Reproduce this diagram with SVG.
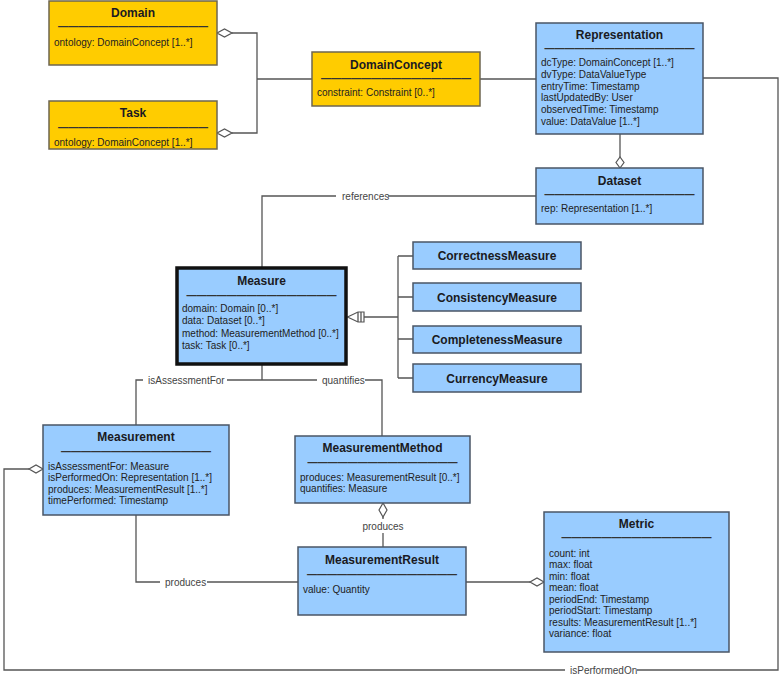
<svg xmlns="http://www.w3.org/2000/svg" width="780" height="675" viewBox="0 0 780 675">
<style>
text{font-family:"Liberation Sans",Arial,sans-serif}
.yel{fill:#FFCC00;stroke:#6e6650;stroke-width:1.5}
.blu{fill:#99CCFF;stroke:#4a5566;stroke-width:1.5}
.thick{fill:#99CCFF;stroke:#111;stroke-width:3.5}
.t{font-weight:bold;font-size:12px;fill:#1a1a22;text-anchor:middle}
.sep{font-size:10px;font-weight:bold;fill:#333;text-anchor:middle}
.a{font-size:10px;fill:#222}
.lbl{font-size:10px;fill:#444}
.c{fill:none;stroke:#555;stroke-width:1.3}
.dia{fill:#fff;stroke:#555;stroke-width:1.2}
</style>
<rect width="780" height="675" fill="#fff"/>
<g id="connectors">
  <path class="c" d="M232,33 H257 V133 H232 M257,79 H312"/>
  <path class="c" d="M480,79 H536"/>
  <path class="c" d="M620,134 V157"/>
  <path class="c" d="M262,268 V196 H536"/>
  <path class="c" d="M703,78 H778 V670 H4 V469 H29"/>
  <path class="c" d="M364,317 H398 M398,256 V378 M398,256 H413 M398,297 H413 M398,339 H413 M398,378 H413"/>
  <path class="c" d="M262,364 V380 M136,425 V380 H382 V436"/>
  <path class="c" d="M383,517 V547"/>
  <path class="c" d="M136,515 V582 H298"/>
  <path class="c" d="M466,582 H530"/>
  <polygon class="dia" points="217,33 224.5,29 232,33 224.5,37"/>
  <polygon class="dia" points="217,133 224.5,129 232,133 224.5,137"/>
  <polygon class="dia" points="620,168 616,162.5 620,157 624,162.5"/>
  <polygon class="dia" points="43,469 36,465 29,469 36,473"/>
  <polygon class="dia" points="383,503 379,510 383,517 387,510"/>
  <polygon class="dia" points="544,582 537,578 530,582 537,586"/>
  <polygon class="dia" points="347.5,317 358,312 364,312 364,322 358,322"/>
  <path class="c" d="M358,312 V322 M361,312 V322"/>
  <rect x="336" y="189" width="52" height="14" fill="#fff"/>
  <text class="lbl" x="342" y="199.5">references</text>
  <rect x="143" y="373" width="84" height="14" fill="#fff"/>
  <text class="lbl" x="148" y="383.5">isAssessmentFor</text>
  <rect x="317" y="373" width="48" height="14" fill="#fff"/>
  <text class="lbl" x="322" y="383.5">quantifies</text>
  <rect x="360" y="519" width="46" height="14" fill="#fff"/>
  <text class="lbl" x="383" y="529.5" text-anchor="middle">produces</text>
  <rect x="160" y="575" width="47" height="14" fill="#fff"/>
  <text class="lbl" x="165" y="585.5">produces</text>
  <rect x="565" y="663" width="72" height="12" fill="#fff"/>
  <text class="lbl" x="570" y="673.5">isPerformedOn</text>
</g>
<g id="Domain">
  <rect class="yel" x="49" y="1" width="168" height="64"/>
  <text class="t" x="133" y="17">Domain</text>
  <text class="sep" x="133" y="30">———————————————</text>
  <text class="a" x="54" y="46">ontology: DomainConcept [1..*]</text>
</g>
<g id="Task">
  <rect class="yel" x="49" y="101" width="168" height="48"/>
  <text class="t" x="133" y="117">Task</text>
  <text class="sep" x="133" y="131">———————————————</text>
  <text class="a" x="54" y="146">ontology: DomainConcept [1..*]</text>
</g>
<g id="DomainConcept">
  <rect class="yel" x="312" y="52" width="168" height="54"/>
  <text class="t" x="396" y="69">DomainConcept</text>
  <text class="sep" x="396" y="82">———————————————</text>
  <text class="a" x="317" y="96">constraint: Constraint [0..*]</text>
</g>
<g id="Representation">
  <rect class="blu" x="536" y="23" width="167" height="111"/>
  <text class="t" x="619.5" y="39">Representation</text>
  <text class="sep" x="619.5" y="52">———————————————</text>
  <text class="a" x="541" y="66">dcType: DomainConcept [1..*]</text>
  <text class="a" x="541" y="77.8">dvType: DataValueType</text>
  <text class="a" x="541" y="89.6">entryTime: Timestamp</text>
  <text class="a" x="541" y="101.4">lastUpdatedBy: User</text>
  <text class="a" x="541" y="113.2">observedTime: Timestamp</text>
  <text class="a" x="541" y="125">value: DataValue [1..*]</text>
</g>
<g id="Dataset">
  <rect class="blu" x="536" y="168" width="167" height="56"/>
  <text class="t" x="619.5" y="185">Dataset</text>
  <text class="sep" x="619.5" y="198">———————————————</text>
  <text class="a" x="541" y="211.5">rep: Representation [1..*]</text>
</g>
<g id="Measure">
  <rect class="thick" x="177" y="268" width="169" height="96"/>
  <text class="t" x="261.5" y="285">Measure</text>
  <text class="sep" x="261.5" y="299">———————————————</text>
  <text class="a" x="182" y="311.5">domain: Domain [0..*]</text>
  <text class="a" x="182" y="324">data: Dataset [0..*]</text>
  <text class="a" x="182" y="336.5">method: MeasurementMethod [0..*]</text>
  <text class="a" x="182" y="348.5">task: Task [0..*]</text>
</g>
<g id="CorrectnessMeasure">
  <rect class="blu" x="413" y="242" width="168" height="27"/>
  <text class="t" x="497" y="260">CorrectnessMeasure</text>
</g>
<g id="ConsistencyMeasure">
  <rect class="blu" x="413" y="283" width="168" height="28"/>
  <text class="t" x="497" y="301.5">ConsistencyMeasure</text>
</g>
<g id="CompletenessMeasure">
  <rect class="blu" x="413" y="326" width="168" height="27"/>
  <text class="t" x="497" y="344">CompletenessMeasure</text>
</g>
<g id="CurrencyMeasure">
  <rect class="blu" x="413" y="364" width="168" height="28"/>
  <text class="t" x="497" y="382.5">CurrencyMeasure</text>
</g>
<g id="Measurement">
  <rect class="blu" x="43" y="425" width="186" height="90"/>
  <text class="t" x="136" y="441">Measurement</text>
  <text class="sep" x="136" y="455">———————————————</text>
  <text class="a" x="48" y="469.5">isAssessmentFor: Measure</text>
  <text class="a" x="48" y="481">isPerformedOn: Representation [1..*]</text>
  <text class="a" x="48" y="492.5">produces: MeasurementResult [1..*]</text>
  <text class="a" x="48" y="504">timePerformed: Timestamp</text>
</g>
<g id="MeasurementMethod">
  <rect class="blu" x="295" y="436" width="175" height="67"/>
  <text class="t" x="382.5" y="452">MeasurementMethod</text>
  <text class="sep" x="382.5" y="466">———————————————</text>
  <text class="a" x="300" y="480.5">produces: MeasurementResult [0..*]</text>
  <text class="a" x="300" y="491.5">quantifies: Measure</text>
</g>
<g id="MeasurementResult">
  <rect class="blu" x="298" y="547" width="168" height="68"/>
  <text class="t" x="382" y="564">MeasurementResult</text>
  <text class="sep" x="382" y="578">———————————————</text>
  <text class="a" x="303" y="592.5">value: Quantity</text>
</g>
<g id="Metric">
  <rect class="blu" x="544" y="512" width="185" height="140"/>
  <text class="t" x="636.5" y="528">Metric</text>
  <text class="sep" x="636.5" y="541">———————————————</text>
  <text class="a" x="549" y="556.5">count: int</text>
  <text class="a" x="549" y="568">max: float</text>
  <text class="a" x="549" y="579.5">min: float</text>
  <text class="a" x="549" y="591">mean: float</text>
  <text class="a" x="549" y="602.5">periodEnd: Timestamp</text>
  <text class="a" x="549" y="614">periodStart: Timestamp</text>
  <text class="a" x="549" y="625.5">results: MeasurementResult [1..*]</text>
  <text class="a" x="549" y="637">variance: float</text>
</g>
</svg>
